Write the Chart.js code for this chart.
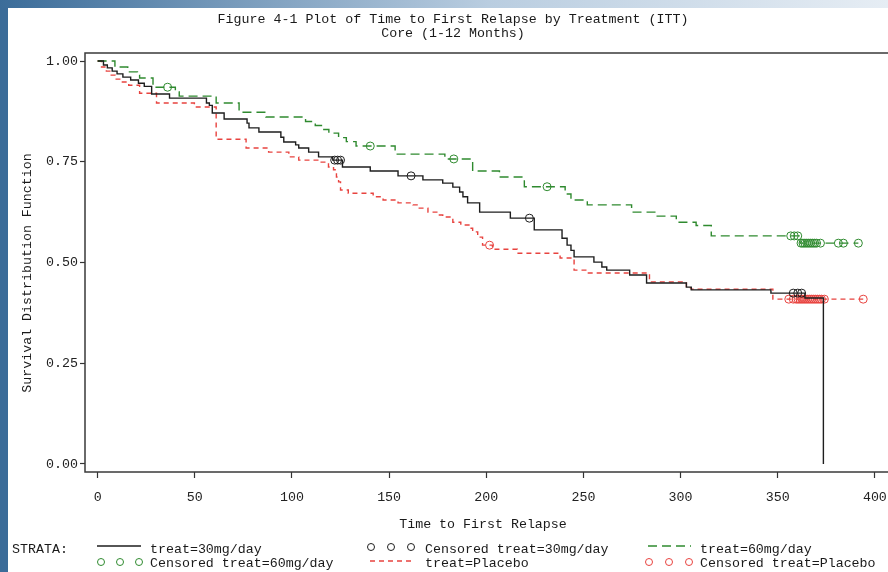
<!DOCTYPE html>
<html>
<head>
<meta charset="utf-8">
<script src="https://cdn.jsdelivr.net/npm/chart.js@4.4.0/dist/chart.umd.min.js"></script>
<style>
  html, body { margin: 0; padding: 0; background: #fff; overflow: hidden; }
  #wrap { position: relative; width: 888px; height: 572px; overflow: hidden; }
  #side { position: absolute; left: 0; top: 0; width: 8px; height: 572px; background: #3b6c99; }
  #topbar { position: absolute; left: 0; top: 0; width: 888px; height: 8px;
            background: linear-gradient(to right, #3b6c99, #b9cde0 55%, #e6edf4); }
  canvas { position: absolute; left: 0; top: 0; }
</style>
</head>
<body>
<div id="wrap">
  <div id="side"></div>
  <div id="topbar"></div>
  <canvas id="km" width="910" height="572"></canvas>
</div>
<script>
"use strict";

const titleLines = ["Figure 4-1 Plot of Time to First Relapse by Treatment (ITT)", "Core (1-12 Months)"];
const xTitle = "Time to First Relapse";
const yTitle = "Survival Distribution Function";
const xTicks = [0, 50, 100, 150, 200, 250, 300, 350, 400];
const yTicks = [0, 0.25, 0.5, 0.75, 1.0];

// Kaplan-Meier steps: event time and survival just after it
const t30 = [0, 3, 5, 7.5, 10, 13, 17, 21, 24, 27.8, 37, 56, 57.5, 59, 65.1, 76.9, 77.9, 83, 94.3, 95.8, 101.9, 103.5, 108.6, 113.7, 121, 126, 140.3, 154.6, 167.4, 177.6, 182.8, 186.3, 188, 190.4, 196.6, 212.4, 224.7, 239, 241.6, 243.6, 245.2, 255.4, 259.5, 262, 273.8, 282.5, 303, 305.5, 346.5, 364, 373.5];
const s30 = [1, 0.99, 0.983, 0.975, 0.968, 0.96, 0.953, 0.945, 0.937, 0.918, 0.908, 0.896, 0.89, 0.871, 0.856, 0.846, 0.834, 0.824, 0.811, 0.799, 0.792, 0.784, 0.774, 0.762, 0.754, 0.737, 0.727, 0.715, 0.705, 0.697, 0.687, 0.675, 0.663, 0.648, 0.625, 0.61, 0.581, 0.56, 0.543, 0.53, 0.514, 0.501, 0.489, 0.481, 0.469, 0.449, 0.439, 0.432, 0.424, 0.412, 0];

const t60 = [0, 8.9, 15.5, 20.5, 21.6, 28.5, 40, 42, 61, 72.8, 86.6, 107, 112, 116, 119, 124, 128, 133, 153.1, 178.7, 193, 206.8, 219.6, 240.6, 243.6, 252, 274.8, 287.6, 297.8, 308, 315.8, 361.5, 391.5];
const s60 = [1, 0.985, 0.973, 0.965, 0.958, 0.935, 0.923, 0.913, 0.896, 0.873, 0.861, 0.85, 0.84, 0.83, 0.821, 0.81, 0.8, 0.789, 0.769, 0.757, 0.727, 0.712, 0.688, 0.67, 0.655, 0.643, 0.625, 0.615, 0.6, 0.592, 0.566, 0.548, 0.548];

const tPbo = [0, 2, 4.5, 7, 9, 12, 16, 21.6, 30.3, 49.8, 61, 76.4, 88, 98.4, 103.5, 113.7, 118.8, 121.4, 122.9, 124, 125, 129, 141.8, 146.9, 154.6, 162.3, 164.9, 170, 175.1, 177.6, 182.8, 186.9, 191.5, 193, 195.6, 198.1, 203.2, 216, 238, 245.2, 251.8, 284, 303, 305.5, 347.5, 394];
const sPbo = [1, 0.985, 0.975, 0.965, 0.955, 0.948, 0.94, 0.92, 0.896, 0.886, 0.806, 0.784, 0.774, 0.762, 0.754, 0.749, 0.737, 0.73, 0.712, 0.7, 0.68, 0.672, 0.663, 0.655, 0.648, 0.643, 0.635, 0.625, 0.618, 0.613, 0.6, 0.593, 0.585, 0.576, 0.563, 0.543, 0.533, 0.523, 0.511, 0.481, 0.474, 0.452, 0.437, 0.434, 0.409, 0.409];

// censored observations
const c30t = [122, 123.5, 125, 161.3, 222.2, 358, 360.3, 362.3];
const c30s = [0.754, 0.754, 0.754, 0.715, 0.61, 0.424, 0.424, 0.424];
const c60t = [36, 140.3, 183.3, 231.3, 356.7, 358.5, 360.3, 362, 363, 364, 365, 366, 367, 368, 369, 370, 372, 381.2, 383.8, 391.5];
const c60s = [0.935, 0.789, 0.757, 0.688, 0.566, 0.566, 0.566, 0.548, 0.548, 0.548, 0.548, 0.548, 0.548, 0.548, 0.548, 0.548, 0.548, 0.548, 0.548, 0.548];
const cPbot = [201.7, 355.7, 358, 359.5, 360.5, 361.5, 362.5, 363.5, 364.5, 365.5, 366.5, 367.5, 368.5, 369.5, 370.5, 371.5, 372.5, 374, 394];
const cPbos = [0.543, 0.409, 0.409, 0.409, 0.409, 0.409, 0.409, 0.409, 0.409, 0.409, 0.409, 0.409, 0.409, 0.409, 0.409, 0.409, 0.409, 0.409, 0.409];

const FONT = "13.3px 'Liberation Mono', 'DejaVu Sans Mono', monospace";
const BLACK = "#1e1e1e";
const GREEN = "#2f8a2f";
const RED = "#e8433f";

function pts(ts, ss) {
  return ts.map((t, i) => ({ x: t, y: ss[i] }));
}

function stepSet(label, ts, ss, color, dash) {
  return {
    type: "line",
    label: label,
    data: pts(ts, ss),
    borderColor: color,
    borderWidth: 1.4,
    borderDash: dash,
    stepped: "before",
    pointRadius: 0,
    fill: false,
  };
}

function censorSet(label, ts, ss, color) {
  return {
    type: "scatter",
    label: label,
    data: pts(ts, ss),
    borderColor: color,
    backgroundColor: "rgba(0,0,0,0)",
    borderWidth: 1,
    pointRadius: 4,
    pointStyle: "circle",
  };
}

// title, axis titles, frame and the SAS style legend
const decor = {
  id: "decor",
  afterDraw(chart) {
    const ctx = chart.ctx;
    const a = chart.chartArea;
    ctx.save();
    ctx.strokeStyle = "#3a3a3a";
    ctx.lineWidth = 1.5;
    ctx.strokeRect(a.left, a.top, a.right - a.left, a.bottom - a.top);

    ctx.font = FONT;
    ctx.fillStyle = "#1a1a1a";
    ctx.textBaseline = "middle";
    ctx.textAlign = "center";
    ctx.fillText(titleLines[0], 453, 19);
    ctx.fillText(titleLines[1], 453, 33);
    ctx.fillText(xTitle, 483, 524);
    ctx.save();
    ctx.translate(27, 273);
    ctx.rotate(-Math.PI / 2);
    ctx.fillText(yTitle, 0, 0);
    ctx.restore();

    ctx.textAlign = "left";
    const r1 = 549, r2 = 563;
    ctx.fillText("STRATA:", 12, r1);
    ctx.fillText("treat=30mg/day", 150, r1);
    ctx.fillText("Censored treat=30mg/day", 425, r1);
    ctx.fillText("treat=60mg/day", 700, r1);
    ctx.fillText("Censored treat=60mg/day", 150, r2);
    ctx.fillText("treat=Placebo", 425, r2);
    ctx.fillText("Censored treat=Placebo", 700, r2);

    const seg = (x1, x2, y, color, dash) => {
      ctx.beginPath();
      ctx.setLineDash(dash);
      ctx.strokeStyle = color;
      ctx.lineWidth = 1.3;
      ctx.moveTo(x1, y);
      ctx.lineTo(x2, y);
      ctx.stroke();
      ctx.setLineDash([]);
    };
    const rings = (xs, y, color) => {
      ctx.strokeStyle = color;
      ctx.lineWidth = 1;
      xs.forEach(x => {
        ctx.beginPath();
        ctx.arc(x, y, 3.5, 0, Math.PI * 2);
        ctx.stroke();
      });
    };
    seg(97, 141, r1 - 3, BLACK, []);
    rings([371, 391, 411], r1 - 2, BLACK);
    seg(648, 691, r1 - 3, GREEN, [9, 5]);
    rings([101, 120, 139], r2 - 1, GREEN);
    seg(370, 414, r2 - 2, RED, [5, 4]);
    rings([649, 669, 689], r2 - 1, RED);
    ctx.restore();
  },
};

new Chart(document.getElementById("km"), {
  data: {
    datasets: [
      censorSet("Censored treat=30mg/day", c30t, c30s, BLACK),
      stepSet("treat=30mg/day", t30, s30, BLACK, []),
      censorSet("Censored treat=60mg/day", c60t, c60s, GREEN),
      stepSet("treat=60mg/day", t60, s60, GREEN, [9, 5]),
      censorSet("Censored treat=Placebo", cPbot, cPbos, RED),
      stepSet("treat=Placebo", tPbo, sPbo, RED, [5, 4]),
    ],
  },
  options: {
    responsive: false,
    animation: false,
    layout: { padding: { left: 45, top: 53, right: 0, bottom: 70 } },
    plugins: {
      legend: { display: false },
      title: { display: false },
      tooltip: { enabled: false },
    },
    scales: {
      x: {
        type: "linear",
        min: -6.5,
        max: 415.5,
        afterBuildTicks: s => { s.ticks = xTicks.map(v => ({ value: v })); },
        afterFit: s => { s.height = 30; s.paddingLeft = 0; s.paddingRight = 0; },
        grid: { drawOnChartArea: false, drawTicks: true, tickLength: 6, color: "#333", tickWidth: 1.2 },
        border: { display: false },
        ticks: {
          font: { family: "'Liberation Mono', monospace", size: 13.3 },
          color: "#222",
          padding: 11,
          maxRotation: 0,
          autoSkip: false,
          callback: v => String(v),
        },
      },
      y: {
        type: "linear",
        min: -0.0199,
        max: 1.0199,
        afterBuildTicks: s => { s.ticks = yTicks.map(v => ({ value: v })); },
        afterFit: s => { s.width = 40; },
        grid: { drawOnChartArea: false, drawTicks: true, tickLength: 5, color: "#333", tickWidth: 1.2 },
        border: { display: false },
        ticks: {
          font: { family: "'Liberation Mono', monospace", size: 13.3 },
          color: "#222",
          padding: 2,
          autoSkip: false,
          callback: v => v.toFixed(2),
        },
      },
    },
  },
  plugins: [decor],
});
</script>
</body>
</html>
